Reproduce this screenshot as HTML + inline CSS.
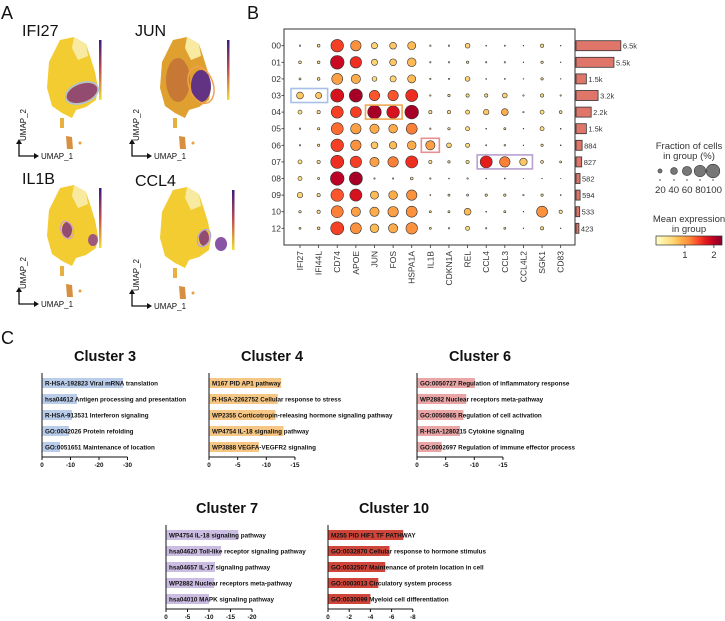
<!DOCTYPE html>
<html><head><meta charset="utf-8"><style>
html,body{margin:0;padding:0;background:#fff;}
svg{display:block;font-family:"Liberation Sans",sans-serif;}
</style></head><body>
<svg id="fig" width="725" height="621" viewBox="0 0 725 621" xmlns="http://www.w3.org/2000/svg">
<text x="1" y="19" font-size="18" fill="#111">A</text>
<text x="247" y="19" font-size="18" fill="#111">B</text>
<text x="1" y="344" font-size="18" fill="#111">C</text>
<defs>
<linearGradient id="cbar" x1="0" x2="1" y1="0" y2="0">
<stop offset="0" stop-color="#ffffcc"/><stop offset="0.125" stop-color="#ffeda0"/><stop offset="0.25" stop-color="#fed976"/><stop offset="0.375" stop-color="#feb24c"/><stop offset="0.5" stop-color="#fd8d3c"/><stop offset="0.625" stop-color="#fc4e2a"/><stop offset="0.75" stop-color="#e31a1c"/><stop offset="0.875" stop-color="#bd0026"/><stop offset="1" stop-color="#800026"/>
</linearGradient>
<linearGradient id="plasma" x1="0" x2="0" y1="1" y2="0">
<stop offset="0" stop-color="#f0e030"/><stop offset="0.5" stop-color="#c05050"/><stop offset="1" stop-color="#3a1a80"/>
</linearGradient>
</defs>
<g id="umaps"></g>
<g id="dot"></g>
<g id="enrich"></g>
</svg>
<script>
const NS="http://www.w3.org/2000/svg";
function mk(tag,attrs,parent,txt){const e=document.createElementNS(NS,tag);for(const k in attrs)e.setAttribute(k,attrs[k]);if(txt!==undefined)e.textContent=txt;parent.appendChild(e);return e;}

// ---------- Panel A: UMAPs ----------
const umapGenes=["IFI27","JUN","IL1B","CCL4"];
const umapOffX=[0,113,0,113];
const umapOffY=[0,0,148,150];
const U=document.getElementById('umaps');
const blob="M60,40 L74,37 L86,44 L90,56 L95,72 L98,88 L96,100 L86,107 L76,110 L72,118 L62,113 L52,106 L47,88 L49,62 Z";
umapGenes.forEach((g,i)=>{
  const gr=mk('g',{transform:`translate(${umapOffX[i]},${umapOffY[i]})`},U);
  
  
  mk('text',{x:22,y:36,'font-size':16,fill:'#111'},gr,g);
  mk('path',{d:blob,fill:i==1?'#e0a030':'#f2cc30'},gr);
  mk('path',{d:"M74,37 L86,44 L88,56 L78,60 L72,48 Z",fill:'#f8eaa0'},gr);
  mk('path',{d:"M60,118 L64,118 L64,128 L60,128 Z",fill:'#e8b040'},gr);
  mk('path',{d:"M66,136 L72,137 L73,149 L67,149 Z",fill:'#d89040'},gr);
  mk('circle',{cx:80,cy:143,r:1.5,fill:'#e8a040'},gr);
  if(i==0){mk('ellipse',{cx:82,cy:93,rx:16,ry:9,fill:'#7a2a80',opacity:.8,transform:'rotate(-20 82 93)'},gr);
    mk('ellipse',{cx:82,cy:93,rx:17,ry:10,fill:'none',stroke:'#a8c0e8','stroke-width':1.5,transform:'rotate(-20 82 93)'},gr);}
  if(i==1){mk('ellipse',{cx:65,cy:80,rx:12,ry:22,fill:'#b0503a',opacity:.5},gr);
    mk('ellipse',{cx:88,cy:86,rx:10,ry:16,fill:'#4a2090',opacity:.85},gr);
    mk('ellipse',{cx:88,cy:85,rx:12,ry:19,fill:'none',stroke:'#f0a050','stroke-width':1.5,transform:'rotate(-20 88 85)'},gr);}
  if(i==2){mk('ellipse',{cx:67,cy:82,rx:5,ry:8,fill:'#7a2a80',opacity:.8},gr);
    mk('ellipse',{cx:67,cy:82,rx:6,ry:9,fill:'none',stroke:'#d0a0c8','stroke-width':1.3,transform:'rotate(-20 67 82)'},gr);
    mk('ellipse',{cx:93,cy:92,rx:5,ry:6,fill:'#8a3a90',opacity:.8},gr);}
  if(i==3){mk('ellipse',{cx:91,cy:88,rx:5,ry:8,fill:'#7a2a80',opacity:.8},gr);
    mk('ellipse',{cx:91,cy:88,rx:6,ry:9,fill:'none',stroke:'#b0a8e0','stroke-width':1.3,transform:'rotate(25 91 88)'},gr);
    mk('ellipse',{cx:108,cy:94,rx:6,ry:7,fill:'#6a2a90',opacity:.8},gr);}
  const cbx=i%2==0?99:114+(i==3?5:0);
  mk('rect',{x:cbx,y:40,width:2.5,height:60,fill:'url(#plasma)'},gr);
  mk('path',{d:"M19,141 L19,156 L36,156",fill:'none',stroke:'#111','stroke-width':1.3},gr);
  mk('path',{d:"M16,144 L19,139 L22,144 Z M34,153 L39,156 L34,159 Z",fill:'#111'},gr);
  mk('text',{x:41,y:159,'font-size':8,fill:'#111'},gr,'UMAP_1');
  mk('text',{x:26,y:141,'font-size':8,fill:'#111',transform:'rotate(-90 26 141)'},gr,'UMAP_2');
});

// ---------- Panel B: dot plot ----------
const genes=["IFI27","IFI44L","CD74","APOE","JUN","FOS","HSPA1A","IL1B","CDKN1A","REL","CCL4","CCL3","CCL4L2","SGK1","CD83"];
const clusters=["00","01","02","03","04","05","06","07","08","09","10","12"];
const fracs=[
[5,12,90,70,35,40,50,5,5,25,3,4,2,15,2],
[12,12,100,80,35,40,55,5,5,10,5,5,2,10,2],
[8,12,75,60,25,35,50,5,5,25,3,4,2,10,2],
[40,35,95,95,70,70,85,5,10,15,15,25,5,15,5],
[20,15,85,75,100,90,100,15,15,20,30,40,5,20,12],
[5,10,85,70,60,55,75,5,10,20,3,8,2,20,3],
[5,10,90,70,40,45,55,60,25,20,4,6,2,10,3],
[20,15,95,80,60,70,85,15,10,15,85,70,45,12,8],
[20,8,100,95,5,5,12,5,3,5,3,4,1,2,1],
[30,15,90,85,50,55,70,3,8,8,10,10,5,10,3],
[10,15,85,60,60,70,75,8,8,40,3,8,2,75,15],
[8,12,95,75,55,60,80,8,5,20,5,8,2,15,2]];
const exprs=[
[.3,.4,1.5,1.1,.6,.7,.8,.3,.3,.6,.3,.3,.2,.5,.2],
[.4,.4,1.9,1.6,.6,.7,.8,.3,.3,.4,.3,.3,.2,.4,.2],
[.3,.4,1.0,.9,.5,.6,.8,.3,.3,.6,.3,.3,.2,.4,.2],
[.7,.7,1.8,2.1,1.4,1.4,1.6,.3,.4,.5,.5,.6,.3,.5,.3],
[.5,.5,1.5,1.5,2.1,1.8,2.1,.5,.5,.6,.7,.9,.3,.5,.4],
[.3,.4,1.3,1.0,.9,.9,1.2,.3,.4,.5,.3,.4,.2,.5,.2],
[.3,.4,1.5,1.1,.7,.8,.9,1.0,.6,.5,.3,.3,.2,.4,.2],
[.5,.5,1.6,1.5,1.0,1.2,1.6,.5,.4,.5,1.7,1.2,.7,.4,.3],
[.5,.3,2.0,2.1,.3,.3,.4,.3,.2,.3,.2,.3,.2,.2,.2],
[.6,.5,1.4,1.8,.8,.9,1.1,.2,.3,.3,.4,.4,.3,.4,.2],
[.4,.5,1.2,1.0,.9,1.0,1.1,.3,.3,.8,.3,.3,.2,1.1,.4],
[.3,.4,1.5,1.1,.8,.9,1.1,.3,.3,.5,.3,.3,.2,.5,.2]];
const cellCounts=[6.5,5.5,1.5,3.2,2.2,1.5,0.884,0.827,0.582,0.594,0.533,0.423];
const countLabels=["6.5k","5.5k","1.5k","3.2k","2.2k","1.5k","884","827","582","594","533","423"];
const legendFracs=[20,40,60,80,100];
const cbarTicks=[1,2];
const highlights=[{row:3,g0:0,g1:1,c:"#a8c0e8"},{row:4,g0:4,g1:5,c:"#f0a850"},{row:6,g0:7,g1:7,c:"#e89090"},{row:7,g0:10,g1:12,c:"#b8a0d0"}];

const stops=["#ffffcc","#ffeda0","#fed976","#feb24c","#fd8d3c","#fc4e2a","#e31a1c","#bd0026","#800026"];
const EMAX=2.28;
function hex(c){return [1,3,5].map(i=>parseInt(c.substr(i,2),16));}
function cmap(v){let t=Math.max(0,Math.min(1,v/EMAX))*(stops.length-1);const i=Math.min(stops.length-2,Math.floor(t));const f=t-i;const a=hex(stops[i]),b=hex(stops[i+1]);return `rgb(${a.map((x,k)=>Math.round(x+(b[k]-x)*f)).join(',')})`;}
const colX=i=>300+i*18.62;
const rowY=j=>45.7+j*16.6;
const rad=f=>6.8*Math.pow(f/100,0.75);
const D=document.getElementById('dot');
const frame=mk('rect',{x:284,y:29,width:291,height:216,fill:'none',stroke:'#333','stroke-width':1},D);


clusters.forEach((c,j)=>{
  const y=rowY(j);
  const t=mk('text',{x:281,y:y+3,'font-size':8.5,fill:'#333','text-anchor':'end'},D,c);
  
  
  mk('line',{x1:281.5,x2:284,y1:y,y2:y,stroke:'#333','stroke-width':.8},D);
  genes.forEach((g,i)=>{
    const d=mk('circle',{cx:colX(i),cy:y,r:rad(fracs[j][i]),fill:cmap(exprs[j][i]),stroke:'#333','stroke-width':.6},D);
    
    
  });
  const w=cellCounts[j]*6.9;
  const b=mk('rect',{x:576,y:y-5,width:w,height:10,fill:'#e0766a',stroke:'#333','stroke-width':.8},D);
  
  
  mk('text',{x:578+w,y:y+3,'font-size':7.5,fill:'#333'},D,countLabels[j]);
});
genes.forEach((g,i)=>{
  const x=colX(i);
  mk('line',{x1:x,x2:x,y1:245,y2:248,stroke:'#333','stroke-width':.8},D);
  const t=mk('text',{x:x+3,y:251,'font-size':8.5,fill:'#333','text-anchor':'end',transform:`rotate(-90 ${x+3} 251)`},D,g);
  
  
});
highlights.forEach(h=>{
  const x0=colX(h.g0)-9,x1=colX(h.g1)+9,y=rowY(h.row);
  const r=mk('rect',{x:x0,y:y-7,width:x1-x0,height:14,fill:'none',stroke:h.c,'stroke-width':1.6},D);
  
  
});
// legends
mk('text',{x:689,y:149,'font-size':9.5,fill:'#333','text-anchor':'middle'},D,'Fraction of cells');
mk('text',{x:689,y:159,'font-size':9.5,fill:'#333','text-anchor':'middle'},D,'in group (%)');
const lx=[660,674,687,700,713];
legendFracs.forEach((f,k)=>{
  const c=mk('circle',{cx:lx[k],cy:171,r:rad(f),fill:'#777',stroke:'#333','stroke-width':.6},D);
  
  
  mk('line',{x1:lx[k],x2:lx[k],y1:179,y2:181,stroke:'#333','stroke-width':.8},D);
});
mk('text',{x:655,y:193,'font-size':9.5,fill:'#333',textLength:67,lengthAdjust:'spacingAndGlyphs'},D,'20 40 60 80100');
mk('text',{x:689,y:222,'font-size':9.5,fill:'#333','text-anchor':'middle'},D,'Mean expression');
mk('text',{x:689,y:232,'font-size':9.5,fill:'#333','text-anchor':'middle'},D,'in group');
const cb=mk('rect',{x:656,y:236,width:66,height:9,fill:'url(#cbar)',stroke:'#333','stroke-width':.7},D);


cbarTicks.forEach(v=>{const x=656+v/EMAX*66;mk('line',{x1:x,x2:x,y1:245,y2:248,stroke:'#333','stroke-width':.8},D);mk('text',{x:x,y:258,'font-size':9.5,fill:'#333','text-anchor':'middle'},D,String(v));});

// ---------- Panel C: enrichment ----------
const c3Terms=["R-HSA-192823 Viral mRNA translation","hsa04612 Antigen processing and presentation","R-HSA-913531 Interferon signaling","GO:0042026 Protein refolding","GO:0051651 Maintenance of location"];
const c3Vals=[28.4,12.3,10.5,9.5,6.3];
const c4Terms=["M167 PID AP1 pathway","R-HSA-2262752 Cellular response to stress","WP2355 Corticotropin-releasing hormone signaling pathway","WP4754 IL-18 signaling pathway","WP3888 VEGFA-VEGFR2 signaling"];
const c4Vals=[12.6,12.0,11.6,13.0,8.7];
const c6Terms=["GO:0050727 Regulation of inflammatory response","WP2882 Nuclear receptors meta-pathway","GO:0050865 Regulation of cell activation","R-HSA-1280215 Cytokine signaling","GO:0002697 Regulation of immune effector process"];
const c6Vals=[10.1,8.6,8.1,7.5,4.3];
const c7Terms=["WP4754 IL-18 signaling pathway","hsa04620 Toll-like receptor signaling pathway","hsa04657 IL-17 signaling pathway","WP2882 Nuclear receptors meta-pathway","hsa04010 MAPK signaling pathway"];
const c7Vals=[16.8,12.8,11.4,11.2,10.0];
const c10Terms=["M255 PID HIF1 TF PATHWAY","GO:0032870 Cellular response to hormone stimulus","GO:0032507 Maintenance of protein location in cell","GO:0003013 Circulatory system process","GO:0030099 Myeloid cell differentiation"];
const c10Vals=[7.1,5.8,5.4,4.75,4.0];
const c3Ticks=[0,-10,-20,-30],c4Ticks=[0,-5,-10,-15],c6Ticks=[0,-5,-10,-15],c7Ticks=[0,-5,-10,-15,-20],c10Ticks=[0,-2,-4,-6,-8];
const E=document.getElementById('enrich');
function chart(name,title,tcx,ty,x0,ppu,y0,terms,vals,ticks,color){
  const g=mk('g',{},E);
  
  
  const t=mk('text',{x:tcx,y:ty,'font-size':14.5,'font-weight':'bold',fill:'#111','text-anchor':'middle'},g,title);
  
  
  const yt=y0-10,yb=y0+74;
  vals.forEach((v,k)=>{
    const y=y0+k*16;
    const r=mk('rect',{x:x0,y:y-5,width:v*ppu,height:10,fill:color},g);
    
    
    mk('text',{x:x0+3,y:y+2.3,'font-size':6.3,'font-weight':'bold',fill:'#111'},g,terms[k]);
  });
  const minT=Math.min(...ticks);
  mk('path',{d:`M${x0},${yt} L${x0},${yb} L${x0-minT*ppu},${yb}`,fill:'none',stroke:'#111','stroke-width':1},g);
  ticks.forEach(v=>{const x=x0-v*ppu;mk('line',{x1:x,x2:x,y1:yb,y2:yb+3,stroke:'#111','stroke-width':1},g);mk('text',{x:x,y:yb+10,'font-size':6.3,'font-weight':'bold',fill:'#111','text-anchor':'middle'},g,String(v));});
}
chart('cluster-3-chart','Cluster 3',105,361,42,2.85,383,c3Terms,c3Vals,c3Ticks,'#b9cdea');
chart('cluster-4-chart','Cluster 4',272,361,209,5.73,383,c4Terms,c4Vals,c4Ticks,'#f6c784');
chart('cluster-6-chart','Cluster 6',480,361,417,5.73,383,c6Terms,c6Vals,c6Ticks,'#eaa6a6');
chart('cluster-7-chart','Cluster 7',227,513,166,4.3,535,c7Terms,c7Vals,c7Ticks,'#cbbce2');
chart('cluster-10-chart','Cluster 10',394,513,328,10.6,535,c10Terms,c10Vals,c10Ticks,'#d0453a');
</script>
</body></html>
